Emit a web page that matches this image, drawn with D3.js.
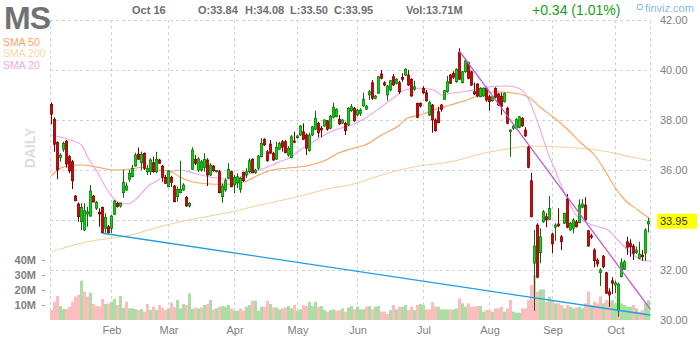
<!DOCTYPE html>
<html>
<head>
<meta charset="utf-8">
<script src="https://cdn.jsdelivr.net/npm/d3@7"></script>
<style>
  body { margin: 0; background: #fff; }
  svg { display: block; font-family: "Liberation Sans", Arial, sans-serif; }
  .grid line { stroke: #d2d2d2; stroke-dasharray: 3,3; shape-rendering: crispEdges; }
  .axis text { fill: #808080; font-size: 11px; }
  .axis .domain { display: none; }
</style>
</head>
<body>
<svg width="700" height="340"></svg>
<script>
// daily candles, Jan 2 .. Oct 16 (one entry per trading day): [open, high, low, close]
var ohlc = [
  [38.63,38.71,37.83,38.23],[38.03,38.10,36.73,37.03],[37.10,37.15,35.63,36.00],[36.50,36.67,36.33,36.60],[36.83,37.13,36.73,37.07],
  [37.16,37.20,36.10,36.24],[36.53,36.60,35.87,35.96],[36.33,36.40,35.24,35.57],[34.96,35.00,34.75,34.77],[34.64,34.70,33.93,34.13],
  [33.93,34.67,33.60,34.50],[33.60,34.67,33.56,34.37],[34.24,34.53,33.73,34.33],[34.16,35.40,34.13,35.16],[34.96,35.00,34.70,34.72],
  [34.47,34.76,34.40,34.71],[34.30,34.47,33.73,34.24],[34.51,34.53,33.47,33.49],[33.67,34.27,33.49,34.11],[33.73,33.80,33.47,33.49],
  [33.67,34.20,33.47,34.16],[34.23,34.80,34.20,34.76],[34.67,34.72,34.50,34.53],[34.56,34.70,34.50,34.67],[35.09,36.00,34.89,35.51],
  [35.20,35.49,35.17,35.36],[35.63,36.00,35.53,35.87],[35.73,36.20,35.71,36.07],[36.16,36.69,36.13,36.60],[36.64,36.90,36.41,36.43],
  [36.29,36.73,36.00,36.63],[36.67,36.70,36.00,36.07],[35.93,36.20,35.80,36.05],[35.93,36.47,35.80,36.40],[36.29,36.53,35.89,35.93],
  [35.93,36.73,35.87,36.43],[36.40,36.45,36.25,36.27],[36.16,36.20,35.53,35.71],[35.71,35.80,35.44,35.47],[35.33,36.00,35.31,35.96],
  [35.71,35.76,35.33,35.51],[35.36,35.40,34.71,34.73],[34.93,35.33,34.73,35.23],[35.09,36.37,35.07,35.23],[35.20,35.47,35.17,35.40],
  [34.91,34.96,34.53,34.56],[34.56,34.71,34.50,34.67],[36.03,36.91,36.00,36.80],[36.43,36.60,36.20,36.27],[36.00,36.53,35.93,36.44],
  [36.00,36.40,35.93,36.33],[36.10,36.67,35.93,36.43],[36.40,36.47,35.36,35.80],[35.80,36.27,35.76,36.20],[36.16,36.20,35.93,35.97],
  [35.93,36.00,35.90,35.98],[35.93,36.00,35.07,35.09],[34.93,35.47,34.69,35.36],[35.20,35.67,35.13,35.57],[35.67,36.27,35.64,36.03],
  [35.93,35.97,35.31,35.33],[35.40,35.80,35.07,35.71],[35.49,35.87,35.27,35.73],[35.23,35.73,35.09,35.67],[35.91,35.93,35.53,35.57],
  [35.80,36.07,35.67,35.93],[35.93,36.47,35.87,36.37],[36.43,36.47,35.87,35.89],[35.89,36.05,35.85,36.00],[36.07,36.60,36.00,36.56],
  [36.53,37.27,36.51,37.07],[37.23,37.27,36.96,37.00],[36.73,36.80,36.33,36.37],[37.04,37.20,36.64,36.67],[36.67,36.73,36.37,36.40],
  [36.43,37.13,36.40,36.91],[36.83,37.13,36.80,37.07],[37.13,37.20,36.73,36.91],[37.13,37.20,36.67,36.69],[36.60,36.96,36.53,36.87],
  [36.49,37.40,36.47,37.33],[37.16,37.53,37.07,37.11],[37.29,37.40,37.25,37.36],[37.40,37.80,37.36,37.76],[37.53,37.87,37.20,37.23],
  [37.40,37.47,36.60,36.87],[36.77,37.49,36.73,37.40],[37.40,37.76,37.36,37.73],[37.63,38.37,37.60,38.07],[37.87,37.93,37.31,37.49],
  [37.67,37.76,37.31,37.60],[37.76,38.03,37.73,38.00],[37.97,38.00,37.57,37.63],[37.67,38.20,37.63,38.16],[38.11,38.69,38.07,38.51],
  [38.13,38.47,38.11,38.43],[38.03,38.20,37.80,37.84],[37.87,38.05,37.85,38.00],[37.87,37.93,37.40,37.57],[37.80,38.51,37.76,38.47],
  [38.37,38.64,38.33,38.53],[38.47,38.53,37.93,37.97],[38.20,38.45,38.15,38.40],[38.25,38.47,38.16,38.40],[38.56,39.10,38.53,38.83],
  [38.43,38.60,38.40,38.56],[39.00,39.20,38.80,39.13],[39.49,39.60,38.80,38.87],[38.87,39.00,38.83,38.96],[39.07,39.76,39.04,39.73],
  [39.84,40.00,39.63,39.67],[39.49,39.55,39.35,39.40],[39.00,39.40,38.77,39.36],[39.20,39.60,39.15,39.57],[39.73,39.84,39.36,39.40],
  [39.47,39.67,39.43,39.63],[39.49,39.57,39.04,39.13],[39.70,39.87,39.53,39.63],[39.80,40.07,39.76,40.03],[39.80,40.00,39.36,39.40],
  [39.63,39.67,38.93,38.96],[39.23,39.57,39.17,39.33],[38.67,38.69,38.07,38.11],[38.67,38.70,38.50,38.56],[39.27,39.36,39.04,39.09],
  [39.09,39.20,38.73,38.77],[38.20,38.77,38.16,38.69],[38.60,38.64,37.49,38.00],[38.00,38.07,37.53,37.57],[38.33,38.53,37.87,37.89],
  [38.60,38.64,38.33,38.43],[38.83,39.20,38.80,39.17],[39.13,39.76,39.09,39.53],[39.80,39.84,39.44,39.47],[39.87,39.95,39.65,39.71],
  [39.53,40.07,39.49,40.03],[40.71,40.87,39.60,39.63],[39.49,39.96,39.47,39.93],[39.93,40.47,39.89,40.37],[40.29,40.33,39.63,39.67],
  [39.93,39.97,39.36,39.40],[39.13,39.49,39.00,39.04],[39.44,39.47,38.91,38.96],[38.93,39.31,38.91,39.27],[38.96,39.30,38.93,39.27],
  [39.27,39.33,38.73,38.80],[38.93,39.00,38.37,38.73],[38.77,38.96,38.73,38.93],[39.27,39.31,38.87,38.91],[39.04,39.09,38.56,38.60],
  [38.95,39.10,38.20,38.55],[38.73,39.10,38.70,39.07],[38.47,38.53,37.83,37.87],[37.53,37.63,36.53,37.60],[37.67,37.80,37.60,37.76],
  [37.67,38.07,37.63,38.03],[37.71,38.16,37.67,38.13],[38.07,38.11,37.73,37.76],[37.60,37.71,37.33,37.36],[36.91,36.96,36.07,36.11],
  [35.57,35.89,34.11,34.13],[32.27,33.60,30.37,32.96],[33.80,33.87,31.67,31.71],[32.69,33.67,32.27,33.33],[33.93,34.40,33.89,34.33],
  [34.13,34.27,33.71,34.00],[34.03,34.96,34.00,34.47],[33.44,33.49,32.67,33.04],[33.71,33.87,33.17,33.80],[33.84,34.47,33.73,33.76],
  [33.33,33.40,32.80,33.13],[33.87,34.29,33.84,34.27],[34.83,35.04,33.67,33.71],[33.60,33.93,33.57,33.87],[33.67,34.07,33.47,34.00],
  [33.93,34.00,33.70,33.73],[33.89,34.83,33.87,34.60],[34.51,34.83,34.47,34.64],[34.60,34.91,33.97,34.00],[33.57,33.60,32.93,32.96],
  [33.37,33.45,33.25,33.31],[32.80,32.87,32.11,32.37],[32.40,32.47,32.13,32.24],[31.89,32.07,31.36,32.00],[32.56,32.60,32.07,32.13],
  [31.89,31.93,31.04,31.07],[31.13,31.27,30.53,31.00],[31.57,31.71,31.04,31.47],[31.40,31.57,31.07,31.49],[30.37,31.49,30.13,31.44],
  [31.73,32.47,31.71,32.29],[32.03,32.40,32.00,32.33],[33.13,33.33,32.60,32.91],[33.07,33.23,32.53,32.93],[32.96,33.04,32.40,32.67],
  [32.69,32.93,32.64,32.80],[32.47,33.13,32.43,32.64],[32.60,32.80,32.37,32.53],[32.67,33.67,32.37,33.60],[33.84,34.08,33.50,33.95]
];

// volume in millions, same days
var volume = [
  6.7,12.2,16.0,9.3,7.3,7.3,8.9,12.2,15.6,16.7,
  26.2,18.9,15.6,18.2,10.7,9.3,8.9,14.0,10.7,11.1,
  12.2,14.0,10.0,16.0,8.2,12.2,7.8,7.8,7.3,6.7,
  7.3,5.6,10.7,6.7,8.9,6.7,10.0,8.2,6.7,7.8,
  11.6,8.5,13.3,7.8,10.7,10.0,17.8,7.5,8.2,7.8,
  8.4,10.0,10.7,13.3,7.1,7.8,8.9,9.3,8.9,10.0,
  7.8,6.2,6.2,7.8,6.2,8.9,10.0,12.9,12.9,6.2,
  8.9,8.9,12.9,10.7,8.4,8.4,7.1,7.8,8.4,9.3,
  7.8,10.0,6.2,7.1,10.0,9.3,12.2,9.3,12.2,8.9,
  9.3,6.7,5.6,6.7,7.1,6.2,6.7,7.8,5.6,8.4,
  9.3,7.1,8.9,7.1,7.1,8.9,9.3,7.1,8.9,9.3,
  5.6,5.6,4.0,6.7,10.0,7.1,8.9,8.9,10.0,6.7,
  8.9,6.7,10.0,10.7,10.0,7.1,7.1,12.0,8.9,8.9,
  7.1,7.1,7.1,7.1,7.1,7.8,14.4,11.1,8.9,11.1,
  8.9,8.9,9.3,9.3,5.6,6.7,6.7,5.6,7.8,7.8,
  8.9,5.6,7.8,13.3,5.6,4.9,4.9,7.8,7.8,13.3,
  23.3,30.0,18.9,20.4,20.4,12.2,15.6,13.3,11.1,11.1,
  10.0,7.8,10.0,8.9,7.8,8.4,8.9,7.8,11.1,18.9,
  10.0,12.2,11.1,15.6,11.1,13.3,12.2,13.3,11.1,23.3,
  11.1,10.0,8.9,8.9,10.0,7.8,5.6,6.7,11.1,13.3
];

// moving averages: [day index, value]
var sma20 = [[0,37.4],[5.5,37.23],[10,37.0],[12,36.53],[15.5,35.87],[19,35.13],[22,34.73],[25.5,34.64],[29,34.93],
  [32,35.33],[35.5,35.6],[39,35.87],[43,36.0],[48,35.85],[55.5,35.67],[60,35.6],[63,35.71],[67.5,35.93],[71,36.07],
  [76,36.33],[80,36.53],[82,36.73],[86.5,37.07],[91,37.4],[94.5,37.6],[100,37.8],[104.5,38.07],[110,38.53],
  [114.5,38.93],[118.5,39.23],[123,39.27],[127.5,39.2],[130,39.0],[133,39.07],[137.5,39.13],[142,39.23],
  [146.5,39.33],[151.5,39.36],[155,39.3],[158.2,39.0],[162.2,37.87],[165.5,36.67],[168.3,35.87],[171,35.07],
  [174.4,34.27],[178.8,33.87],[182.2,33.73],[185.5,33.6],[188.8,33.2],[193.3,32.67],[197.7,32.37],[199.5,32.37]];
var sma50 = [[0,35.76],[2,36.0],[5.5,36.16],[10,36.2],[15.5,36.11],[21,36.0],[26.5,36.04],[30,36.11],[34.5,36.0],
  [39,35.97],[43,35.71],[48,35.5],[54.5,35.43],[60,35.44],[64.5,35.53],[69,35.8],[73.5,36.0],[78,36.07],[82,36.11],
  [86.5,36.2],[91,36.37],[95.5,36.67],[100,36.85],[104.5,37.0],[110,37.4],[116,37.8],[118.5,38.07],[123,38.2],
  [127.5,38.4],[133,38.6],[138.5,38.8],[143,39.0],[147.5,39.13],[153.3,39.09],[158.8,38.93],[163.3,38.47],
  [167.7,38.07],[172.2,37.6],[176.6,37.07],[181,36.6],[184.4,36.0],[187.7,35.33],[191.1,34.8],[195.5,34.4],[199.5,34.05]];
var sma200 = [[0,32.73],[5.5,32.93],[12,33.13],[20,33.27],[26.5,33.4],[35.5,33.71],[43,33.93],[50,34.1],[60,34.33],
  [71,34.64],[82,34.93],[93,35.27],[100,35.42],[110,35.8],[121,36.13],[133,36.33],[144,36.67],[151,36.82],
  [160,36.96],[171,36.91],[182,36.8],[193,36.53],[199.5,36.37]];

// trendlines: [day index, price]
var supportLine = [[17.5,33.47],[200,30.2]];
var resistLine = [[136.5,40.75],[200,30.45]];

var months = ["Feb","Mar","Apr","May","Jun","Jul","Aug","Sep","Oct"];
var monthStart = [20,39,61,82,102,124,146,167,188];
var priceTicks = [30,32,34,36,38,40,42];
var priceLabels = [30,32,36,38,40,42];
var volTicks = [10,20,30,40];
var lastClose = 33.95;

var svg = d3.select("svg"),
    margin = {top: 20, right: 50, bottom: 20, left: 50},
    width = +svg.attr("width") - margin.left - margin.right,
    height = +svg.attr("height") - margin.top - margin.bottom;

var x = d3.scaleLinear().domain([0, ohlc.length]).range([margin.left, margin.left + width]);
var y = d3.scaleLinear().domain([30, 42]).range([margin.top + height, margin.top]);
var yv = d3.scaleLinear().domain([0, 40]).range([margin.top + height, margin.top + height - 60]);

// grid
var grid = svg.append("g").attr("class", "grid");
grid.selectAll(".h").data(priceTicks.filter(function(d) { return d > 30; }))
  .enter().append("line")
  .attr("x1", x(0)).attr("x2", x(ohlc.length))
  .attr("y1", function(d) { return Math.round(y(d)) + 0.5; })
  .attr("y2", function(d) { return Math.round(y(d)) + 0.5; });
grid.selectAll(".v").data([0].concat(monthStart.map(function(d) { return d + 0.5; }), [ohlc.length]))
  .enter().append("line")
  .attr("x1", function(d) { return Math.floor(x(d)) + 0.5; })
  .attr("x2", function(d) { return Math.floor(x(d)) + 0.5; })
  .attr("y1", margin.top).attr("y2", margin.top + height);

// volume
svg.append("g").selectAll("rect").data(volume).enter().append("rect")
  .attr("x", function(d, i) { return x(i); })
  .attr("width", x(1) - x(0))
  .attr("y", function(d) { return yv(d); })
  .attr("height", function(d) { return yv(0) - yv(d); })
  .attr("fill", function(d, i) {
    var prev = i > 0 ? ohlc[i - 1][3] : ohlc[i][0];
    return ohlc[i][3] >= prev ? "#abdea5" : "#fcbdbd";
  });

// moving averages
var line = d3.line()
  .curve(d3.curveMonotoneX)
  .x(function(d) { return x(d[0] + 0.5); })
  .y(function(d) { return y(d[1]); });
[[sma200, "#f3d39a"], [sma50, "#fda25f"], [sma20, "#f2a3e6"]].forEach(function(s) {
  svg.append("path").datum(s[0])
    .attr("fill", "none").attr("stroke", s[1]).attr("stroke-width", 1.1)
    .attr("d", line);
});

// candles
var candles = svg.append("g").selectAll("g").data(ohlc).enter().append("g");
candles.append("line")
  .attr("x1", function(d, i) { return x(i + 0.5); })
  .attr("x2", function(d, i) { return x(i + 0.5); })
  .attr("y1", function(d) { return y(d[1]); })
  .attr("y2", function(d) { return y(d[2]); })
  .attr("stroke", function(d) { return d[3] >= d[0] ? "#0a6b0a" : "#700000"; })
  .attr("stroke-width", 1);
candles.append("rect")
  .attr("x", function(d, i) { return x(i + 0.5) - 1.15; })
  .attr("width", 2.3)
  .attr("y", function(d) { return y(Math.max(d[0], d[3])); })
  .attr("height", function(d) { return Math.max(1, Math.abs(y(d[0]) - y(d[3]))); })
  .attr("fill", function(d) { return d[3] >= d[0] ? "#00dd00" : "#dd0000"; })
  .attr("stroke", function(d) { return d[3] >= d[0] ? "#0a6b0a" : "#700000"; })
  .attr("stroke-width", 0.7);

// trendlines
var tline = d3.line().x(function(d) { return x(d[0]); }).y(function(d) { return y(d[1]); });
svg.append("path").datum(supportLine).attr("fill", "none")
  .attr("stroke", "#1e9ee2").attr("stroke-width", 1.3).attr("d", tline);
svg.append("path").datum(resistLine).attr("fill", "none")
  .attr("stroke", "#c05ed4").attr("stroke-width", 1.3).attr("d", tline);

// axes
svg.append("g").attr("class", "axis")
  .attr("transform", "translate(" + (margin.left + width) + ",0)")
  .call(d3.axisRight(y).tickValues(priceLabels).tickFormat(d3.format(".2f")).tickSize(0).tickPadding(10));
var va = svg.append("g").attr("class", "axis")
  .attr("transform", "translate(45,0)")
  .call(d3.axisLeft(yv).tickValues(volTicks).tickFormat(function(d) { return d + "M"; }).tickSize(3).tickPadding(6));
va.selectAll("line").attr("stroke", "#999");
va.selectAll("text").style("font-weight", "bold").attr("fill", "#8a8a8a");
svg.append("g").attr("class", "axis")
  .attr("transform", "translate(0," + (margin.top + height) + ")")
  .call(d3.axisBottom(x).tickValues(monthStart.map(function(d) { return d + 0.5; }))
    .tickFormat(function(d, i) { return months[i]; }).tickSize(0).tickPadding(6));

// last price tag
svg.append("rect").attr("x", 657).attr("y", y(lastClose) - 7.5)
  .attr("width", 40).attr("height", 15).attr("fill", "#ffff00");
svg.append("text").attr("x", 660).attr("y", y(lastClose)).attr("dy", "0.35em")
  .attr("font-size", 11).attr("fill", "#333").text(d3.format(".2f")(lastClose));

// header
svg.append("text").attr("x", 4).attr("y", 29).attr("font-size", 32).attr("font-weight", "bold")
  .attr("fill", "#727272").attr("letter-spacing", -1).text("MS");
svg.append("text").attr("x", 132).attr("y", 14).attr("font-size", 11).attr("font-weight", "bold")
  .attr("fill", "#6e6e6e").text("Oct 16");
var head = [["O:33.84", 198], ["H:34.08", 245], ["L:33.50", 290], ["C:33.95", 334], ["Vol:13.71M", 406]];
svg.selectAll(".hd").data(head).enter().append("text")
  .attr("x", function(d) { return d[1]; }).attr("y", 14)
  .attr("font-size", 11).attr("font-weight", "bold").attr("fill", "#6e6e6e")
  .text(function(d) { return d[0]; });
svg.append("text").attr("x", 532).attr("y", 15).attr("font-size", 14)
  .attr("fill", "#16a016").text("+0.34 (1.01%)");
svg.append("rect").attr("x", 637.5).attr("y", 4.5).attr("width", 5).attr("height", 5)
  .attr("rx", 1.5).attr("fill", "none").attr("stroke", "#7fbde6");
svg.append("text").attr("x", 645).attr("y", 12).attr("font-size", 11)
  .attr("fill", "#7fbde6").text("finviz.com");

var legend = [["SMA 50", "#ffa15e"], ["SMA 200", "#f6d8a6"], ["SMA 20", "#f4a6e8"]];
svg.selectAll(".lg").data(legend).enter().append("text")
  .attr("x", 3).attr("y", function(d, i) { return 45.5 + i * 11.7; })
  .attr("font-size", 10.5).attr("fill", function(d) { return d[1]; })
  .text(function(d) { return d[0]; });

svg.append("text").attr("transform", "translate(30,148) rotate(-90)")
  .attr("text-anchor", "middle").attr("dy", "0.35em")
  .attr("font-size", 14).attr("font-weight", "bold").attr("fill", "#dcdcdc").text("DAILY");
</script>
</body>
</html>
